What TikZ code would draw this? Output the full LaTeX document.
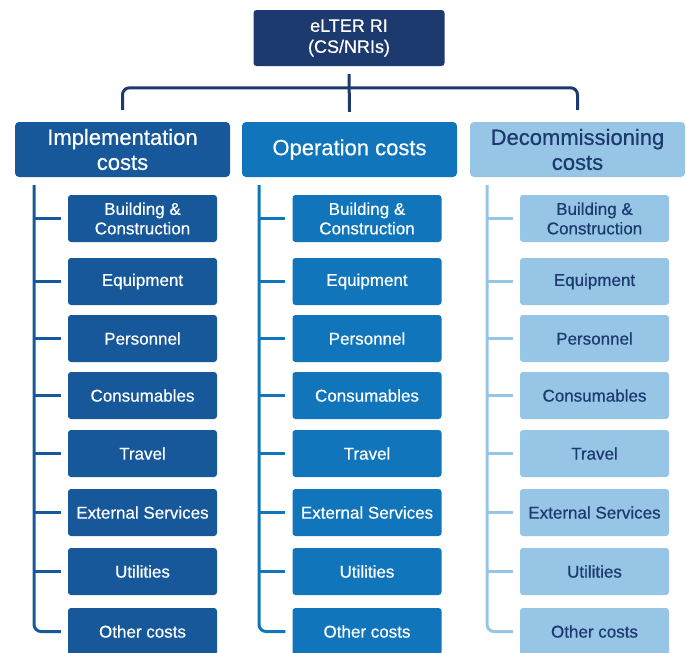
\documentclass[tikz,border=0pt]{standalone}
\usepackage{fontspec}
\setmainfont{Liberation Sans}
\newfontfamily\medfont{Liberation Sans}[FakeBold=0.6]
\usetikzlibrary{positioning, calc}

\definecolor{elnavy}{HTML}{1C3A6E}
\definecolor{impblue}{HTML}{16589A}
\definecolor{opblue}{HTML}{1175BC}
\definecolor{decblue}{HTML}{97C5E6}

\tikzset{
  topbox/.style={fill=elnavy, text=white, rounded corners=3pt, minimum width=191pt,
    minimum height=56pt, align=center, font=\medfont\fontsize{18}{21}\selectfont},
  headbox/.style={rounded corners=4pt, minimum width=215pt, minimum height=55pt,
    align=center, font=\medfont\fontsize{22}{25}\selectfont},
  itembox/.style={rounded corners=3pt, minimum width=149pt, minimum height=47pt,
    align=center, font=\medfont\fontsize{17}{19.5}\selectfont},
  link/.style={line width=3pt, rounded corners=7pt},
}

\begin{document}
\begin{tikzpicture}[x=1pt, y=-1pt]
\useasboundingbox (0,0) rectangle (686,653);

% root
\node[topbox] (root) at (349,38) {eLTER RI\\(CS/NRIs)};

% cost headers
\node[headbox, fill=impblue, text=white] (hdra) at (122.5,149.5) {Implementation\\costs};
\node[headbox, fill=opblue, text=white] (hdrb) at (349.5,149.5) {Operation costs};
\node[headbox, fill=decblue, text=elnavy] (hdrc) at (577.5,149.5) {Decommissioning\\costs};

\draw[link, draw=elnavy] ([yshift=12pt]hdra.north) -- ([yshift=34pt]hdra.north)
  -- ([yshift=34pt]hdrc.north) -- ([yshift=12pt]hdrc.north);
\draw[link, draw=elnavy] ([yshift=-8pt]root.south) -- ([yshift=10pt]hdrb.north);

% cost items per column
\foreach \col/\cx/\lx/\fillc/\txtc in {a/142.5/34/impblue/white, b/367/259/opblue/white, c/594.5/487/decblue/elnavy}{
  \coordinate (\col top) at (\lx,185);
  \foreach \lbl/\y [count=\i] in {{Building \&\\Construction}/218.5, Equipment/281.5,
      Personnel/338.5, Consumables/395.5, Travel/453.5, External Services/512.5,
      Utilities/571.5, Other costs/631.5}{
    \node[itembox, fill=\fillc, text=\txtc] (\col\i) at (\cx,\y) {\lbl};
  }
  \draw[link, draw=\fillc] (\col top) |- ([xshift=-7pt]\col8.west);
  \foreach \i in {1,...,7}{
    \draw[link, draw=\fillc] (\col\i.west -| \col top) -- ([xshift=-7pt]\col\i.west);
  }
}
\end{tikzpicture}
\end{document}
